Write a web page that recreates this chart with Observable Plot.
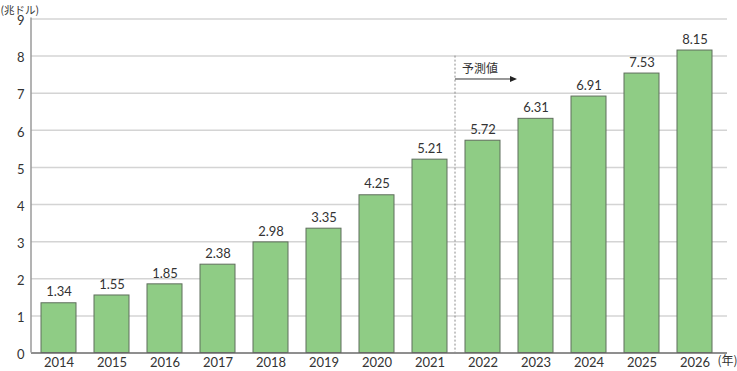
<!DOCTYPE html>
<html>
<head>
<meta charset="utf-8">
<script src="https://cdn.jsdelivr.net/npm/d3@7"></script>
<script src="https://cdn.jsdelivr.net/npm/@observablehq/plot@0.6"></script>
<style>
  html, body { margin: 0; padding: 0; background: #fff; }
  #chart { width: 737px; height: 371px; }
</style>
</head>
<body>
<div id="chart"></div>
<script>
const years = ["2014","2015","2016","2017","2018","2019","2020","2021","2022","2023","2024","2025","2026"];
const values = [1.34, 1.55, 1.85, 2.38, 2.98, 3.35, 4.25, 5.21, 5.72, 6.31, 6.91, 7.53, 8.15];
const yTicks = [0,1,2,3,4,5,6,7,8,9];
const unitLabel = "(兆ドル)";
const yearLabel = "(年)";
const forecastLabel = "予測値";
const forecastStart = "2022";
const forecastPrev = "2021";

const data = years.map((year, i) => ({year, value: values[i]}));

const cjk = "'Noto Sans CJK JP', sans-serif";
const num = "Lato, 'Noto Sans CJK JP', sans-serif";

const axisLine = (index, scales, values, dims) => {
  const g = d3.create("svg:g");
  g.append("line")
    .attr("x1", dims.marginLeft).attr("x2", dims.marginLeft)
    .attr("y1", dims.marginTop - 1).attr("y2", dims.height - dims.marginBottom)
    .attr("stroke", "#9a9a9a").attr("stroke-width", 1.5);
  return g.node();
};

const forecast = (index, scales, values, dims) => {
  const x = scales.x, y = scales.y;
  const bw = x.bandwidth();
  const xm = (x(forecastPrev) + bw + x(forecastStart)) / 2 - 1;
  const g = d3.create("svg:g");
  g.append("line")
    .attr("x1", xm).attr("x2", xm)
    .attr("y1", y(8)).attr("y2", y(0))
    .attr("stroke", "#8a8a8a").attr("stroke-width", 1)
    .attr("stroke-dasharray", "2,2");
  const ya = y(7.37);
  const xe = xm + 62;
  g.append("line")
    .attr("x1", xm).attr("x2", xe - 5)
    .attr("y1", ya).attr("y2", ya)
    .attr("stroke", "#333").attr("stroke-width", 1);
  g.append("path")
    .attr("d", `M${xe},${ya}L${xe-7},${ya-3}L${xe-7},${ya+3}Z`)
    .attr("fill", "#222");
  g.append("text")
    .attr("x", xm + 7).attr("y", ya - 6)
    .attr("text-anchor", "start")
    .attr("font-size", 12).attr("fill", "#333")
    .attr("font-family", cjk)
    .text(forecastLabel);
  return g.node();
};

const chart = Plot.plot({
  width: 737,
  height: 371,
  marginLeft: 31,
  marginRight: 16,
  marginTop: 18.5,
  marginBottom: 18.5,
  style: {fontFamily: num, fontSize: "13px", color: "#333", background: "#fff"},
  x: {domain: years, paddingInner: 0.34, paddingOuter: 0.17, label: null},
  y: {domain: [0, 9], label: null},
  marks: [
    Plot.ruleY(yTicks.filter(d => d > 0), {stroke: "#d4d4d4", strokeWidth: 1.5, insetRight: -6}),
    Plot.barY(data, {x: "year", y: "value", fill: "#8fcc85", stroke: "#5f6e5c", strokeWidth: 1}),
    Plot.ruleY([0], {stroke: "#6a6a6a", strokeWidth: 1.5, insetRight: -6}),
    axisLine,
    Plot.axisY({ticks: yTicks, tickSize: 0, tickPadding: 7, fontSize: 13, dy: 2, tickFormat: d => String(d)}),
    Plot.axisX({tickSize: 0, tickPadding: 5, fontSize: 13}),
    Plot.text(data, {x: "year", y: "value", text: d => d.value.toFixed(2), dy: -11, fontSize: 13, fill: "#333"}),
    forecast,
    Plot.text([unitLabel], {frameAnchor: "top-left", dx: -31, dy: -12.5, textAnchor: "start", fontSize: 10.5, fontFamily: cjk, fill: "#333"}),
    Plot.text([yearLabel], {frameAnchor: "bottom-right", dx: 16, dy: 12, textAnchor: "end", fontSize: 12, fontFamily: cjk, fill: "#333"})
  ]
});
document.getElementById("chart").appendChild(chart);
</script>
</body>
</html>
